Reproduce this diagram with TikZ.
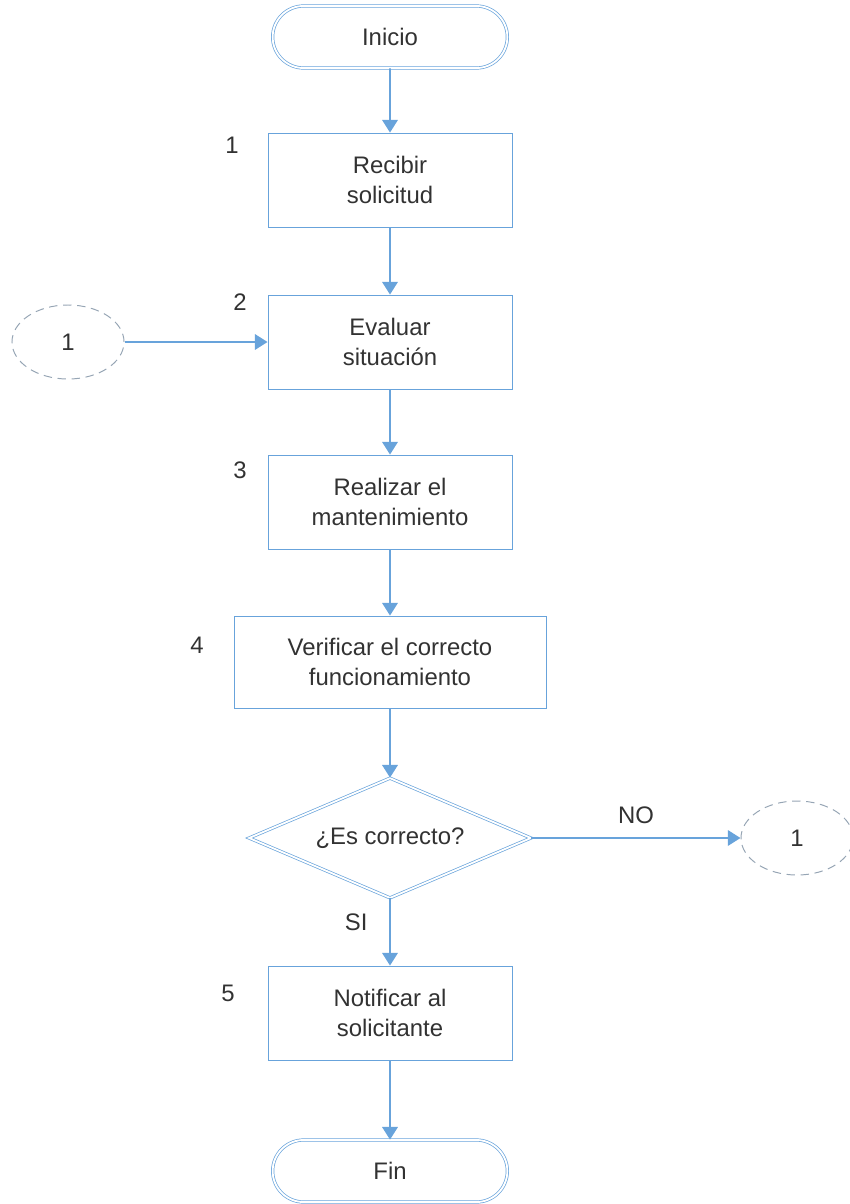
\documentclass[tikz,border=0pt]{standalone}
\usepackage{fontspec}
\setmainfont{Liberation Sans}
\usetikzlibrary{shapes.geometric,shapes.misc,arrows.meta}

\definecolor{flujo}{RGB}{104,163,219}
\definecolor{texto}{RGB}{50,50,50}
\definecolor{conector}{RGB}{150,165,180}

\tikzset{
  terminal/.style={rounded rectangle, draw=flujo, double=white, double distance=1.3pt, line width=0.5pt, minimum width=6.1cm, minimum height=1.55cm, text=texto},
  proceso/.style={rectangle, draw=flujo, line width=0.6pt, minimum width=6.1cm, minimum height=2.35cm, align=center, text=texto},
  decision/.style={diamond, aspect=2.35, inner sep=0pt, draw=flujo, double=white, double distance=1.3pt, line width=0.5pt, minimum width=7.05cm, minimum height=3cm, text=texto},
  enlace/.style={ellipse, draw=conector, dash pattern=on 6pt off 4pt, line width=0.7pt, minimum width=2.8cm, minimum height=1.85cm, text=texto},
  paso/.style={text=texto},
  flecha/.style={-{Triangle[length=9pt,width=11pt]}, draw=flujo, fill=flujo, line width=1.4pt}
}

\begin{document}
\begin{tikzpicture}[x=0.025cm, y=-0.025cm, font=\fontsize{17}{21}\selectfont]
\useasboundingbox (0,0) rectangle (849,1204);

\node[terminal] (inicio) at (390,37) {Inicio};
\node[proceso] (p1) at (390,180) {Recibir\\solicitud};
\node[proceso] (p2) at (390,342) {Evaluar\\situación};
\node[proceso] (p3) at (390,502) {Realizar el\\mantenimiento};
\node[proceso, minimum width=7.8cm, minimum height=2.3cm] (p4) at (390,662) {Verificar el correcto\\funcionamiento};
\node[decision] (d1) at (390,838) {¿Es correcto?};
\node[proceso] (p5) at (390,1013) {Notificar al\\solicitante};
\node[terminal] (fin) at (390,1171) {Fin};

\node[enlace] (c1) at (68,342) {1};
\node[enlace] (c2) at (797,838) {1};

\node[paso] (n1) at (232,145) {1};
\node[paso] (n2) at (240,302) {2};
\node[paso] (n3) at (240,470) {3};
\node[paso] (n4) at (197,645) {4};
\node[paso] (n5) at (228,993) {5};

\draw (inicio) edge[flecha] (p1);
\draw (p1) edge[flecha] (p2);
\draw (c1.east) edge[flecha] (p2.west);
\draw (p2) edge[flecha] (p3);
\draw (p3) edge[flecha] (p4);
\draw (p4) edge[flecha] (d1);
\draw (d1.east) edge[flecha] node[above=6pt, text=texto] {NO} (c2.west);
\draw (d1) edge[flecha] node[left=12pt, text=texto, pos=0.35] {SI} (p5);
\draw (p5) edge[flecha] (fin);
\end{tikzpicture}
\end{document}
